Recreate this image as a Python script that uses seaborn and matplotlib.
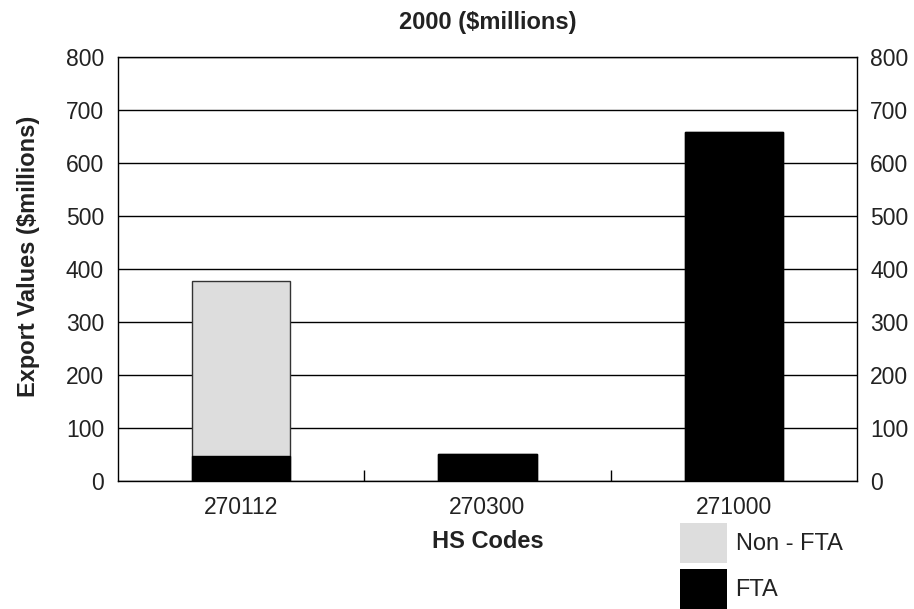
import matplotlib
matplotlib.use("Agg")
import matplotlib.pyplot as plt
from matplotlib.patches import Patch
from matplotlib.ticker import FixedLocator
import pandas as pd
import seaborn as sns

hs_codes = ["270112", "270300", "271000"]
fta = [48, 51, 658]
non_fta = [330, 0, 0]
y_ticks = [0, 100, 200, 300, 400, 500, 600, 700, 800]

sns.set_theme(style="white")
plt.rcParams["font.family"] = ["Liberation Sans", "DejaVu Sans"]
text_color = "#222222"

df = pd.DataFrame({"code": hs_codes, "fta": fta, "non_fta": non_fta})
df["total"] = df["fta"] + df["non_fta"]

fig = plt.figure(figsize=(9.14, 6.09), dpi=100)
ax = fig.add_axes([0.1291, 0.2102, 0.8085, 0.6962])

# stacked: draw totals first (light grey), FTA on top in black
sns.barplot(data=df, x="code", y="total", color="#dddddd", width=0.4,
            edgecolor="#333333", linewidth=1, saturation=1, ax=ax, zorder=3)
sns.barplot(data=df, x="code", y="fta", color="black", width=0.4,
            edgecolor="black", linewidth=1, saturation=1, ax=ax, zorder=4)

ax.set_ylim(0, 800)
ax.set_xlim(-0.5, 2.5)
ax.set_yticks(y_ticks)
ax.yaxis.grid(True, color="black", linewidth=1)
ax.set_axisbelow(True)
for s in ax.spines.values():
    s.set_color("black")
    s.set_linewidth(1)

ax.tick_params(axis="y", length=0, pad=10, labelsize=16.5, labelcolor=text_color)
ax.tick_params(axis="x", which="major", length=0, pad=11, labelsize=16.5, labelcolor=text_color)
ax.xaxis.set_minor_locator(FixedLocator([0.5, 1.5]))
ax.tick_params(axis="x", which="minor", bottom=True, direction="in", length=8, width=1, color="black")

ax2 = ax.twinx()
ax2.set_ylim(ax.get_ylim())
ax2.set_yticks(y_ticks)
ax2.tick_params(axis="y", length=0, pad=9.5, labelsize=16.5, labelcolor=text_color)
for s in ax2.spines.values():
    s.set_visible(False)

ax.set_xlabel("HS Codes", fontsize=17, fontweight="bold", color=text_color, labelpad=8)
ax.set_ylabel("Export Values ($millions)", fontsize=17, fontweight="bold", color=text_color)
ax.yaxis.set_label_coords(-0.106, 0.53)
ax.set_title("2000 ($millions)", fontsize=17, fontweight="bold", color=text_color, pad=20)

handles = [Patch(facecolor="#dddddd", edgecolor="none", label="Non - FTA"),
           Patch(facecolor="black", edgecolor="none", label="FTA")]
fig.legend(handles=handles, loc="upper left", bbox_to_anchor=(0.744, 0.1412),
           frameon=False, fontsize=17, handlelength=2.0, handleheight=2.23,
           handletextpad=0.35, labelspacing=0.25, borderpad=0, borderaxespad=0,
           labelcolor=text_color)

fig.savefig("out.png", dpi=100)
